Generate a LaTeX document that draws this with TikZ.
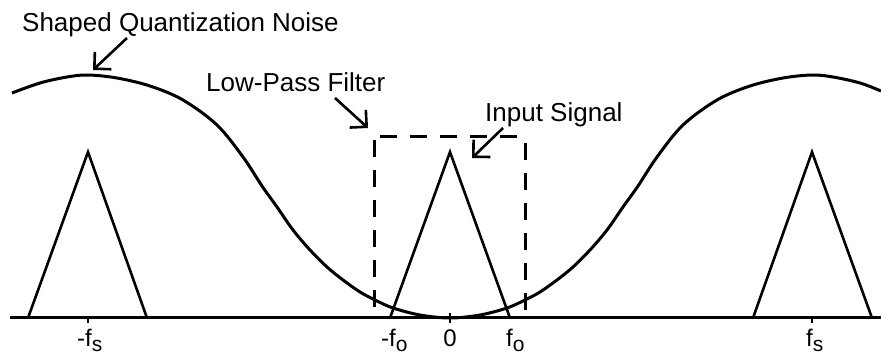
\documentclass[tikz,border=0pt]{standalone}
\usepackage{fontspec}
\setmainfont{Liberation Sans}
\usetikzlibrary{arrows.meta}
\newcommand{\lowsub}[1]{\raisebox{-5pt}{\fontsize{21}{21}\selectfont #1}}
\begin{document}
\begin{tikzpicture}[x=1pt,y=-1pt,
  heavy/.style={line width=3pt},
  tri/.style={line width=2.6pt, line join=miter},
  lpfline/.style={line width=3pt, dash pattern=on 17pt off 13pt},
  tickline/.style={line width=1.6pt},
  pointer/.style={line width=2.6pt, -{Straight Barb[length=12pt,width=24pt]}},
  lbl/.style={font=\fontsize{26}{30}\selectfont, inner sep=0pt, anchor=base west},
  axl/.style={font=\fontsize{24}{28}\selectfont, inner sep=0pt, anchor=base west}]
\useasboundingbox (0,0) rectangle (881,355);

% axis
\coordinate (axL) at (10,318);
\coordinate (axR) at (881,318);
\draw[heavy] (axL) -- (axR);

% ticks
\coordinate (t1a) at (88,318);  \coordinate (t1b) at (88,323);
\coordinate (t2a) at (450,313); \coordinate (t2b) at (450,323);
\coordinate (t3a) at (812,318); \coordinate (t3b) at (812,323);
\draw[tickline] (t1a) -- (t1b) (t2a) -- (t2b) (t3a) -- (t3b);

% shaped quantization noise curve
\draw[heavy] plot[smooth, tension=0.55] coordinates {
 (12,93) (40,83) (67,77) (88,75) (117,78) (150,86) (183,100) (217,125)
 (243,157) (262,186) (277,207) (293,230) (310,250) (327,267) (343,280)
 (360,292) (375,300) (393,308) (420,315) (450,318)
 (480,315) (507,308) (525,300) (540,292) (557,280) (573,267) (590,250)
 (607,230) (623,207) (638,186) (657,157) (683,125) (717,100) (750,86)
 (783,78) (812,75) (833,77) (860,83) (881,91)};

% triangles (signal and images)
\coordinate (L1) at (28,318);  \coordinate (P1) at (88,152);  \coordinate (R1) at (147,318);
\coordinate (L2) at (390,318); \coordinate (P2) at (450,152); \coordinate (R2) at (510,318);
\coordinate (L3) at (753,318); \coordinate (P3) at (812,152); \coordinate (R3) at (872,318);
\draw[tri] (L1) -- (P1) -- (R1);
\draw[tri] (L2) -- (P2) -- (R2);
\draw[tri] (L3) -- (P3) -- (R3);

% low-pass filter box
\coordinate (bA) at (374,140); \coordinate (bB) at (374,318);
\coordinate (bC) at (380,137); \coordinate (bD) at (525,137);
\coordinate (bE) at (525,143); \coordinate (bF) at (525,318);
\draw[lpfline] (bA) -- (bB) (bC) -- (bD) (bE) -- (bF);

% labels
\node[lbl] (sqn) at (22,32) {Shaped Quantization Noise};
\node[lbl] (lpf) at (206,92) {Low-Pass Filter};
\node[lbl] (ins) at (485,122) {Input Signal};

% pointers
\coordinate (a1s) at (127,38);  \coordinate (a1e) at (93,70);
\coordinate (a2s) at (335,98);  \coordinate (a2e) at (368,128);
\coordinate (a3s) at (503,128); \coordinate (a3e) at (472,158);
\draw[pointer] (a1s) -- (a1e);
\draw[pointer] (a2s) -- (a2e);
\draw[pointer] (a3s) -- (a3e);

% axis labels
\node[axl] (mfs) at (77,347) {-f\lowsub{s}};
\node[axl] (mfo) at (381,347) {-f\lowsub{o}};
\node[axl, anchor=base] (zero) at (450,347) {0};
\node[axl] (pfo) at (506,347) {f\lowsub{o}};
\node[axl] (pfs) at (806,347) {f\lowsub{s}};
\end{tikzpicture}
\end{document}
